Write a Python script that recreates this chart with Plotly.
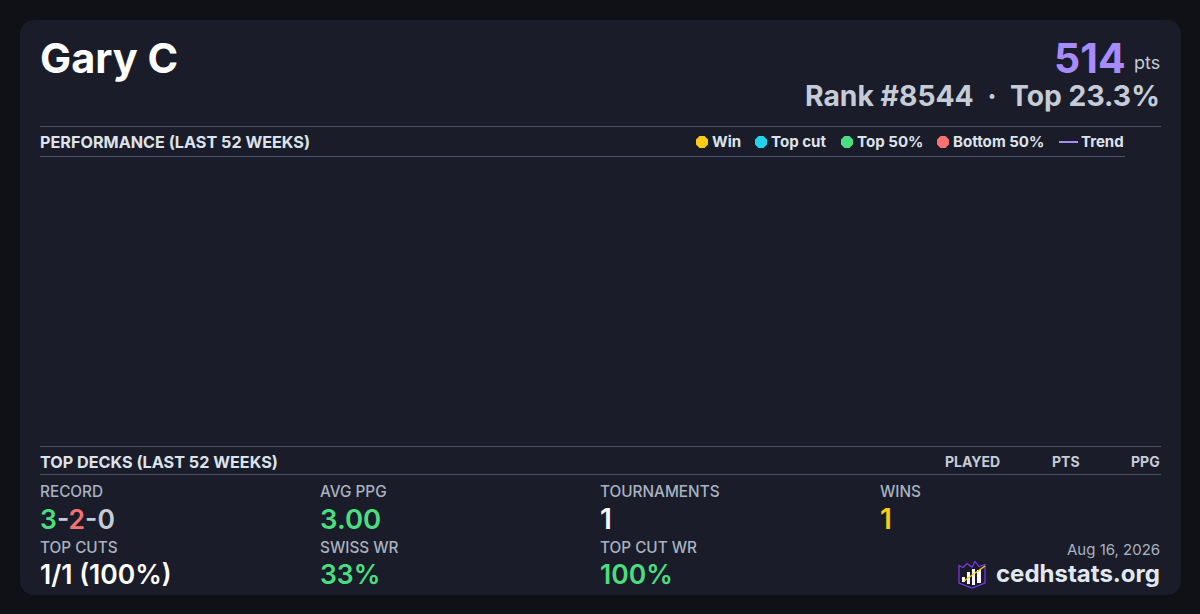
import plotly.graph_objects as go

player = 'Gary C'
points = '514'
rank_line = 'Rank #8544  ·  Top 23.3%'
date_text = 'Aug 16, 2026'
site_name = 'cedhstats.org'

legend_names = ['Win', 'Top cut', 'Top 50%', 'Bottom 50%']
legend_colors = ['#facc15', '#22d3ee', '#4ade80', '#f87171']
legend_dot_x = [702, 761, 847, 943]
legend_text_x = [712, 771, 857, 953]

deck_columns = ['PLAYED', 'PTS', 'PPG']
deck_column_right = [1000, 1080, 1160]

GREEN = '#4ade80'
RED = '#f87171'
GREY = '#c5ccd8'
WHITE = '#ffffff'
YELLOW = '#facc15'
PURPLE = '#a78bfa'
LINE = '#475569'
HEAD = '#dde3ec'

record = ('<span style="color:%s">3</span><span style="color:%s">-</span>'
          '<span style="color:%s">2</span><span style="color:%s">-0</span>'
          % (GREEN, GREY, RED, GREY))

stat_labels = ['RECORD', 'AVG PPG', 'TOURNAMENTS', 'WINS',
               'TOP CUTS', 'SWISS WR', 'TOP CUT WR']
stat_values = [record, '3.00', '1', '1', '1/1 (100%)', '33%', '100%']
stat_colors = [GREY, GREEN, WHITE, YELLOW, WHITE, GREEN, GREEN]
stat_sizes = [26.5, 27.5, 28, 28, 26.5, 26.5, 26.5]
stat_x = [40, 320, 600, 880, 40, 320, 600]
stat_row = [0, 0, 0, 0, 1, 1, 1]


def label(x, y, text, size, color, weight=400, anchor='left'):
    # annotations sit 2px inside their anchor, hence the shift
    return dict(x=x, y=y, text=text, showarrow=False, xanchor=anchor, yanchor='middle',
                xref='x', yref='y', align=anchor, xshift=-2 if anchor == 'left' else 2,
                font=dict(family='Inter', size=size, color=color, weight=weight))


def rule(x0, x1, y):
    return dict(type='line', x0=x0, x1=x1, y0=y, y1=y, xref='x', yref='y',
                line=dict(color=LINE, width=1), layer='below')


def bar(x0, x1, y0, y1):
    return dict(type='rect', x0=x0, x1=x1, y0=y0, y1=y1, xref='x', yref='y',
                fillcolor='#f8fafc', line=dict(width=0))


annotations = [
    label(40, 57.5, player, 41.5, WHITE, 700),
    label(1126, 58, points, 41, PURPLE, 700, 'right'),
    label(1160, 62, 'pts', 18, GREY, 400, 'right'),
    label(1160, 95.5, rank_line, 28.3, GREY, 700, 'right'),
    label(40, 142, 'PERFORMANCE (LAST 52 WEEKS)', 16.2, HEAD, 700),
    label(1081, 141.5, 'Trend', 15, HEAD, 700),
    label(40, 462, 'TOP DECKS (LAST 52 WEEKS)', 16.2, HEAD, 700),
    label(1160, 549.5, date_text, 15, '#a9b2c1', 400, 'right'),
    label(1160, 573.5, site_name, 24, '#e2e8f0', 700, 'right'),
]
for name, x in zip(legend_names, legend_text_x):
    annotations.append(label(x, 141.5, name, 15.1, HEAD, 700))
for name, x in zip(deck_columns, deck_column_right):
    annotations.append(label(x, 461.5, name, 14, GREY, 700, 'right'))
for lab, val, col, size, x, row in zip(stat_labels, stat_values, stat_colors, stat_sizes,
                                       stat_x, stat_row):
    annotations.append(label(x, 491.5 + row * 56, lab, 15.3, '#a9b2c1', 500))
    annotations.append(label(x, 518.5 + row * 56 - (row * 0.5), val, size, col, 600))

shapes = [
    dict(type='path', xref='x', yref='y', layer='below', fillcolor='#1a1d29',
         line=dict(width=0),
         path='M36,20 L1165,20 Q1181,20 1181,36 L1181,579 Q1181,595 1165,595 '
              'L36,595 Q20,595 20,579 L20,36 Q20,20 36,20 Z'),
    rule(40, 1161, 126.5),
    rule(40, 1125, 156.5),
    rule(40, 1161, 446.5),
    rule(40, 1161, 474.5),
    dict(type='line', x0=1059, x1=1078, y0=142, y1=142, xref='x', yref='y',
         line=dict(color=PURPLE, width=2)),
    # logo
    dict(type='path', xref='x', yref='y', line=dict(color='#7c3aed', width=1.2),
         path='M959,565.5 L963,567.5 L967,563.5 L972,567 L975,561.5 L979,566.5 L985,564.5 '
              'L985,583 L972,588 L959,583 Z'),
    bar(962, 965, 577, 582),
    bar(967, 970, 572, 584),
    bar(972, 975, 569, 585),
    bar(977, 981, 570, 583),
    dict(type='line', x0=964, x1=985, y0=581, y1=566, xref='x', yref='y',
         line=dict(color=YELLOW, width=1.5)),
]

fig = go.Figure(go.Scatter(
    x=legend_dot_x,
    y=[142] * len(legend_dot_x),
    mode='markers',
    marker=dict(size=13, color=legend_colors, symbol='octagon', line=dict(width=0)),
    hoverinfo='skip',
))
fig.update_layout(
    width=1200, height=614,
    margin=dict(l=0, r=0, t=0, b=0),
    paper_bgcolor='#101116', plot_bgcolor='#101116',
    showlegend=False,
    xaxis=dict(range=[0, 1200], visible=False, fixedrange=True),
    yaxis=dict(range=[614, 0], visible=False, fixedrange=True),
    shapes=shapes,
    annotations=annotations,
)
fig.write_html('out.html', config=dict(displayModeBar=False),
               post_script="document.body.style.margin='0';document.body.style.background='#101116';")
